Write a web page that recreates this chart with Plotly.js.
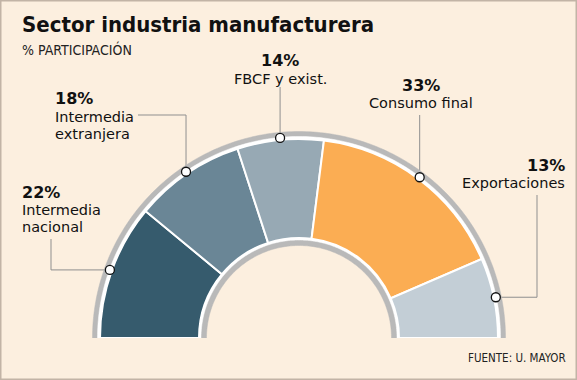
<!DOCTYPE html>
<html><head><meta charset="utf-8">
<script src="https://cdn.plot.ly/plotly-3.0.1.min.js"></script>
<style>html,body{margin:0;padding:0;background:#fcefdf;overflow:hidden}</style>
</head><body><div id="chart" style="width:577px;height:380px"></div>
<script>
// ---- data ----
const categories = ['Intermedia nacional','Intermedia extranjera','FBCF y exist.','Consumo final','Exportaciones'];
const labelLines = [['Intermedia','nacional'],['Intermedia','extranjera'],['FBCF y exist.'],['Consumo final'],['Exportaciones']];
const shares = [22,18,14,33,13];
const pctLabels = ['22%','18%','14%','33%','13%'];
const colors = ['#365b6d','#6a8696','#97a9b4','#fbad53','#c3ced6'];
const titleText = 'Sector industria manufacturera';
const subtitleText = '% PARTICIPACIÓN';
const sourceText = 'FUENTE: U. MAYOR';

// ---- layout geometry (px) ----
const W=577, H=380;
const CX=299, CY=338, RMAX=210;
const R_IN=100, R_OUT=199, R_DOT=201;
// y = centre of first name line
const labelPos = [
  {x:21, y:210, anchor:'left', leader:[['h',51],['v',239]]},
  {x:54, y:116.5, anchor:'left', leader:[['v',115],['h',138]]},
  {x:280, y:78.5, anchor:'center', leader:[['v',87]]},
  {x:421, y:103, anchor:'center', leader:[['v',115]]},
  {x:566, y:183, anchor:'right', leader:[['h',537],['v',195]]}
];
const NAME_GAP = 17, PCT_GAP = 17.9;

const total = shares.reduce((a,b)=>a+b,0);
let cum = 0; const mids=[], widths=[];
shares.forEach(v=>{const w=v/total*180; mids.push(cum+w/2); widths.push(w); cum+=w;});

function outline(rOut, rIn, drop){
  const th=[], r=[], d=180/Math.PI;
  th.push(-Math.atan(drop/rOut)*d); r.push(Math.hypot(rOut,drop));
  for(let a=0;a<=180;a+=1){th.push(a); r.push(rOut);}
  th.push(180+Math.atan(drop/rOut)*d); r.push(Math.hypot(rOut,drop));
  th.push(180+Math.atan(drop/rIn)*d); r.push(Math.hypot(rIn,drop));
  for(let a=180;a>=0;a-=1){th.push(a); r.push(rIn);}
  th.push(-Math.atan(drop/rIn)*d); r.push(Math.hypot(rIn,drop));
  th.push(th[0]); r.push(r[0]);
  return {th, r};
}
const gOut = outline(206.5, 92.5, 7);
const wOut = outline(201.5, 98, 1.5);

const data = [
  {type:'scatterpolar', subplot:'polar', theta:gOut.th, r:gOut.r, mode:'lines', fill:'toself',
   fillcolor:'#b9b9b9', line:{width:0.5,color:'#b9b9b9'}, cliponaxis:false, hoverinfo:'skip'},
  {type:'scatterpolar', subplot:'polar', theta:wOut.th, r:wOut.r, mode:'lines', fill:'toself',
   fillcolor:'#ffffff', line:{width:0.5,color:'#ffffff'}, cliponaxis:false, hoverinfo:'skip'},
  {type:'barpolar', subplot:'polar2', theta:mids, width:widths, r:shares.map(()=>R_OUT-R_IN), base:R_IN,
   marker:{color:colors, line:{color:'#ffffff', width:2}}, text:categories, hoverinfo:'skip'},
  {type:'scatterpolar', subplot:'polar2', theta:mids, r:mids.map(()=>R_DOT), mode:'markers',
   marker:{size:9, color:'#ffffff', line:{color:'#111111', width:1.3}}, cliponaxis:false, hoverinfo:'skip'}
];

const polarCfg = () => ({
  domain:{x:[(CX-RMAX)/W,(CX+RMAX)/W], y:[(H-CY)/H,(H-CY+RMAX)/H]},
  sector:[0,180], hole:0, bgcolor:'rgba(0,0,0,0)',
  radialaxis:{range:[0,RMAX], visible:false},
  angularaxis:{rotation:180, direction:'clockwise', visible:false}
});

const px = x => x/W, py = y => 1 - y/H;
const annotations = [];
const shapes = [];
function ann(text, x, y, anchor, font){
  annotations.push({text, x:px(x), y:py(y), xref:'paper', yref:'paper', xanchor:anchor, yanchor:'middle',
    align:anchor, showarrow:false, font, borderpad:0});
}
const FONT_C = '"DejaVu Sans Condensed", "DejaVu Sans", sans-serif';
const FONT = '"DejaVu Sans", sans-serif';
ann(titleText, 21, 25, 'left', {family:FONT_C, size:22, weight:700, color:'#111'});
ann(subtitleText, 21, 49.5, 'left', {family:FONT_C, size:14, color:'#222'});
ann(sourceText, 567, 358, 'right', {family:FONT_C, size:11.5, color:'#222'});

labelPos.forEach((p,i)=>{
  ann(pctLabels[i], p.x, p.y - PCT_GAP, p.anchor, {family:FONT, size:16, weight:700, color:'#111'});
  labelLines[i].forEach((t,j)=>ann(t, p.x, p.y + NAME_GAP*j, p.anchor, {family:FONT, size:14.5, color:'#111'}));
  // leader line from dot
  const th = mids[i]*Math.PI/180;
  let x = CX - R_DOT*Math.cos(th), y = CY - R_DOT*Math.sin(th);
  let path = `M ${px(x)},${py(y)}`;
  p.leader.forEach(([dir,v])=>{ if(dir==='h') x=v; else y=v; path += ` L ${px(x)},${py(y)}`; });
  shapes.push({type:'path', path, xref:'paper', yref:'paper', layer:'below', line:{color:'#8f8f8f', width:1}});
});
shapes.push({type:'rect', xref:'paper', yref:'paper', x0:px(0.75), x1:px(W-0.75), y0:py(H-0.75), y1:py(0.75),
  line:{color:'#c2b4a6', width:1.5}, layer:'above'});

const layout = {
  width:W, height:H, margin:{l:0,r:0,t:0,b:0},
  paper_bgcolor:'#fcefdf', plot_bgcolor:'rgba(0,0,0,0)',
  showlegend:false, hovermode:false,
  polar: polarCfg(), polar2: polarCfg(),
  annotations, shapes
};
Plotly.newPlot('chart', data, layout, {displayModeBar:false, staticPlot:true});
</script></body></html>
